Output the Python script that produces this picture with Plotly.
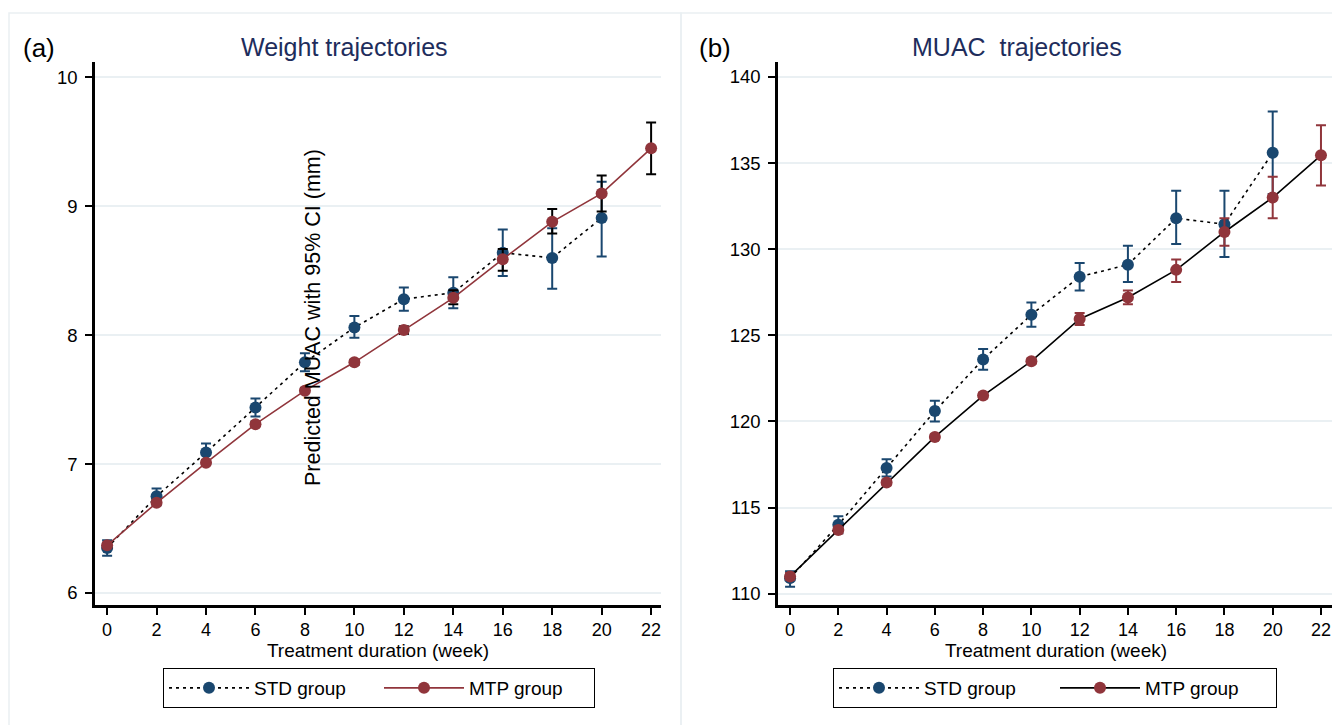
import plotly.graph_objects as go

W, H = 1340, 725
OFF = 8  # page body margin in the browser


def px(x):
    return (x - OFF) / W


def py(y):
    return 1 - (y - OFF) / H


weeks_std = [0, 2, 4, 6, 8, 10, 12, 14, 16, 18, 20]
weeks_mtp = [0, 2, 4, 6, 8, 10, 12, 14, 16, 18, 20, 22]

# Panel (a): weight
wt_std = [6.35, 6.75, 7.09, 7.44, 7.79, 8.06, 8.28, 8.33, 8.64, 8.60, 8.91]
wt_std_lo = [6.29, 6.68, 7.03, 7.37, 7.72, 7.98, 8.19, 8.21, 8.46, 8.36, 8.61]
wt_std_hi = [6.41, 6.81, 7.16, 7.51, 7.86, 8.15, 8.37, 8.45, 8.82, 8.83, 9.19]
wt_mtp = [6.37, 6.70, 7.01, 7.31, 7.57, 7.79, 8.04, 8.29, 8.59, 8.88, 9.10, 9.45]
wt_mtp_lo = [6.35, 6.69, 7.00, 7.30, 7.56, 7.77, 8.01, 8.24, 8.50, 8.79, 8.96, 9.25]
wt_mtp_hi = [6.39, 6.72, 7.03, 7.33, 7.59, 7.81, 8.07, 8.35, 8.67, 8.98, 9.24, 9.65]

# Panel (b): MUAC
mu_std = [110.9, 114.0, 117.3, 120.6, 123.6, 126.2, 128.4, 129.1, 131.8, 131.45, 135.6]
mu_std_lo = [110.4, 113.5, 116.8, 120.0, 123.0, 125.5, 127.6, 128.1, 130.3, 129.55, 133.2]
mu_std_hi = [111.3, 114.5, 117.8, 121.2, 124.2, 126.9, 129.2, 130.2, 133.4, 133.4, 138.0]
mu_mtp = [111.0, 113.7, 116.45, 119.1, 121.5, 123.5, 125.95, 127.2, 128.8, 131.0, 133.0, 135.45]
mu_mtp_lo = [110.8, 113.5, 116.3, 118.95, 121.35, 123.35, 125.6, 126.8, 128.1, 130.2, 131.8, 133.7]
mu_mtp_hi = [111.2, 113.9, 116.6, 119.25, 121.65, 123.65, 126.3, 127.6, 129.4, 131.8, 134.2, 137.2]

x_ticks = list(range(0, 23, 2))
wt_ticks = [6, 7, 8, 9, 10]
mu_ticks = [110, 115, 120, 125, 130, 135, 140]

BLUE = "#1a476f"
RED = "#90353b"
GRID = "#eaf0f3"
FONT = "Liberation Sans, Arial, sans-serif"


def err(vals, lo, hi, color):
    return dict(type="data", symmetric=False,
                array=[h - v for v, h in zip(vals, hi)],
                arrayminus=[v - l for v, l in zip(vals, lo)],
                color=color, thickness=2, width=5)


fig = go.Figure()

# Panel (a)
fig.add_trace(go.Scatter(x=weeks_std, y=wt_std, mode="lines+markers", name="STD group",
                         line=dict(color="black", width=1.6, dash="3px,4px"),
                         marker=dict(color=BLUE, size=12),
                         error_y=err(wt_std, wt_std_lo, wt_std_hi, BLUE),
                         xaxis="x", yaxis="y", legend="legend"))
fig.add_trace(go.Scatter(x=weeks_mtp, y=wt_mtp, mode="lines+markers", name="MTP group",
                         line=dict(color=RED, width=1.6),
                         marker=dict(color=RED, size=12),
                         error_y=err(wt_mtp, wt_mtp_lo, wt_mtp_hi, "black"),
                         xaxis="x", yaxis="y", legend="legend"))
# Panel (b)
fig.add_trace(go.Scatter(x=weeks_std, y=mu_std, mode="lines+markers", name="STD group",
                         line=dict(color="black", width=1.6, dash="3px,4px"),
                         marker=dict(color=BLUE, size=12),
                         error_y=err(mu_std, mu_std_lo, mu_std_hi, BLUE),
                         xaxis="x2", yaxis="y2", legend="legend2"))
fig.add_trace(go.Scatter(x=weeks_mtp, y=mu_mtp, mode="lines+markers", name="MTP group",
                         line=dict(color="black", width=1.6),
                         marker=dict(color=RED, size=12),
                         error_y=err(mu_mtp, mu_mtp_lo, mu_mtp_hi, RED),
                         xaxis="x2", yaxis="y2", legend="legend2"))

ydom = [py(605), py(62)]
xaxis_common = dict(tickmode="array", tickvals=x_ticks, showgrid=False, zeroline=False,
                    showline=True, linecolor="black", linewidth=2.5,
                    ticks="outside", ticklen=7, tickwidth=2, tickcolor="black",
                    tickfont=dict(size=18, color="black", family=FONT),
                    title=dict(text="Treatment duration (week)", standoff=0,
                               font=dict(size=19, color="black", family=FONT)))
yaxis_common = dict(showgrid=True, gridcolor=GRID, gridwidth=2, zeroline=False,
                    showline=True, linecolor="black", linewidth=2.5,
                    ticks="outside", ticklen=7, tickwidth=2, tickcolor="black",
                    ticklabelstandoff=4,
                    tickfont=dict(size=18.5, color="black", family=FONT))

legend_common = dict(orientation="h", yanchor="top", xanchor="left",
                     bordercolor="black", borderwidth=1,
                     font=dict(size=19, family=FONT, color="black"),
                     itemwidth=80, entrywidthmode="pixels", bgcolor="white")

fig.update_layout(
    width=W, height=H,
    margin=dict(l=0, r=0, t=0, b=0),
    paper_bgcolor="white", plot_bgcolor="white",
    font=dict(family=FONT, color="black"),
    xaxis=dict(xaxis_common, domain=[px(95), px(661)], range=[-0.49, 22.4], anchor="y"),
    yaxis=dict(yaxis_common, domain=ydom, range=[5.907, 10.12], tickvals=wt_ticks, anchor="x"),
    xaxis2=dict(xaxis_common, domain=[px(778), px(1334)], range=[-0.5, 22.54], anchor="y2"),
    yaxis2=dict(yaxis_common, domain=ydom, range=[109.34, 140.87], tickvals=mu_ticks, anchor="x2"),
    legend=dict(legend_common, x=px(163), y=py(668), entrywidth=120),
    legend2=dict(legend_common, x=px(833), y=py(668), entrywidth=126),
    shapes=[
        dict(type="rect", xref="paper", yref="paper", x0=px(9), x1=px(681), y0=-0.05, y1=py(13),
             line=dict(color="#eaf0f2", width=1.5), layer="below"),
        dict(type="rect", xref="paper", yref="paper", x0=px(681), x1=1.05, y0=-0.05, y1=py(13),
             line=dict(color="#eaf0f2", width=1.5), layer="below"),
    ],
    annotations=[
        dict(text="(a)", x=px(21), y=py(48), xref="paper", yref="paper", xanchor="left",
             yanchor="middle", showarrow=False, font=dict(size=26, color="black")),
        dict(text="(b)", x=px(697), y=py(48), xref="paper", yref="paper", xanchor="left",
             yanchor="middle", showarrow=False, font=dict(size=26, color="black")),
        dict(text="Weight trajectories", x=px(344), y=py(47), xref="paper", yref="paper",
             xanchor="center", yanchor="middle",
             showarrow=False, font=dict(size=25, color="#1e2d5c")),
        dict(text="MUAC  trajectories", x=px(1017), y=py(47), xref="paper", yref="paper",
             xanchor="center", yanchor="middle",
             showarrow=False, font=dict(size=25, color="#1e2d5c")),
        dict(text="Predicted MUAC with 95% CI (mm)", x=px(313), y=py(318), xref="paper",
             yref="paper", xanchor="center", yanchor="middle",
             textangle=-90, showarrow=False, font=dict(size=21.5, color="black")),
    ],
)

fig.write_html("out.html")
